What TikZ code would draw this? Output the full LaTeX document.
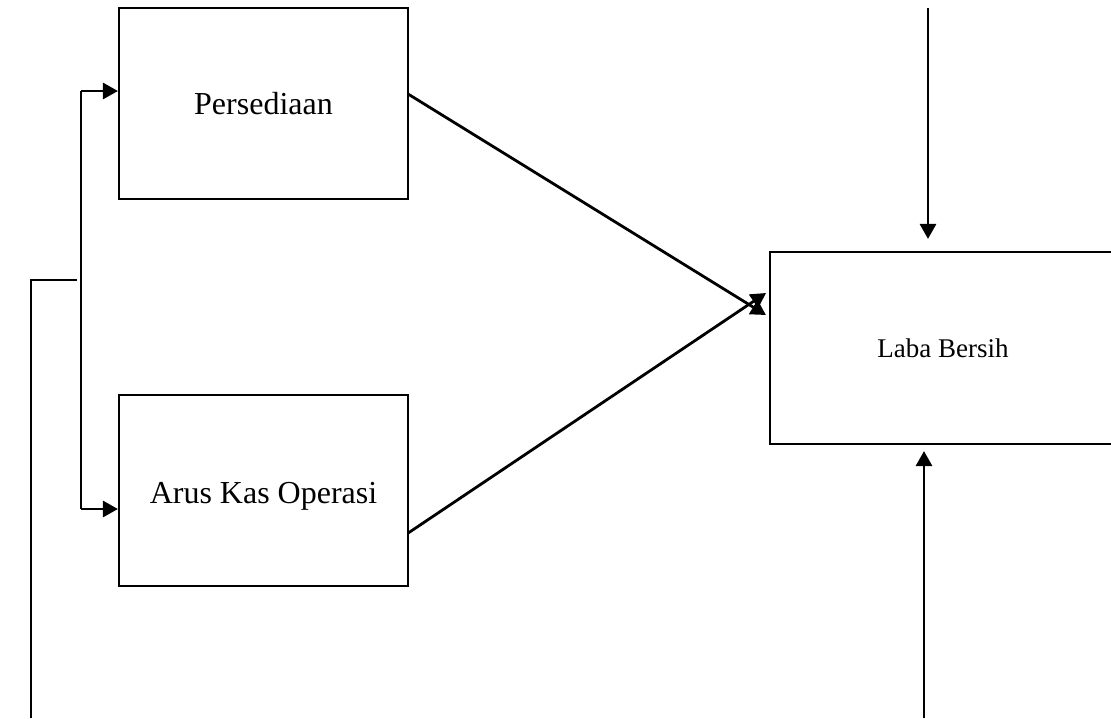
\documentclass[tikz,border=0pt]{standalone}
\usepackage{fontspec}
\setmainfont{Liberation Serif}
\usetikzlibrary{positioning}
\usetikzlibrary{calc}
\usetikzlibrary{arrows.meta}

\begin{document}
\begin{tikzpicture}[x=1pt, y=-1pt,
    box/.style={rectangle, draw=black, line width=2.1pt, minimum width=289pt, minimum height=191pt, align=center, font=\fontsize{32}{38}\selectfont},
    arr/.style={line width=2.8pt, -{Triangle[length=15pt, width=16pt]}}]
            \clip (0,0) rectangle (1111,718);
            \node[box] (pers) at (263.5,103.5) {Persediaan};
            \node[box, below = 194pt of pers, text height=30pt, text depth=5pt] (arus) {Arus Kas Operasi};
            \node[box, minimum width=346pt, minimum height=192pt, font=\fontsize{27}{32}\selectfont] (laba) at (943,348) {Laba Bersih};

            \coordinate (br1) at (81,91);
            \coordinate (br2) at (81,509);
            \coordinate (feed) at (31,718);
            \coordinate (join) at (77,280);
            \coordinate (intop) at (928,8);
            \coordinate (inbot) at (924,718);

            \draw[line width=2.6pt] (br1) -- (br2);
            \draw[arr] (br1) -- (br1 -| pers.west);
            \draw[arr] (br2) -- (br2 -| arus.west);
            \draw[line width=2.4pt] (feed) |- (join);

            \draw[arr] ($(pers.east)+(-1,-9.5)$) -- ($(laba.west)+(-3,-33)$);
            \draw[arr] ($(arus.east)+(-1,42.5)$) -- ($(laba.west)+(-3,-55)$);

            \draw[arr, shorten >=12pt] (intop) -- (intop |- laba.north);
            \draw[arr, shorten >=6pt] (inbot) -- (inbot |- laba.south);
        \end{tikzpicture}
\end{document}
